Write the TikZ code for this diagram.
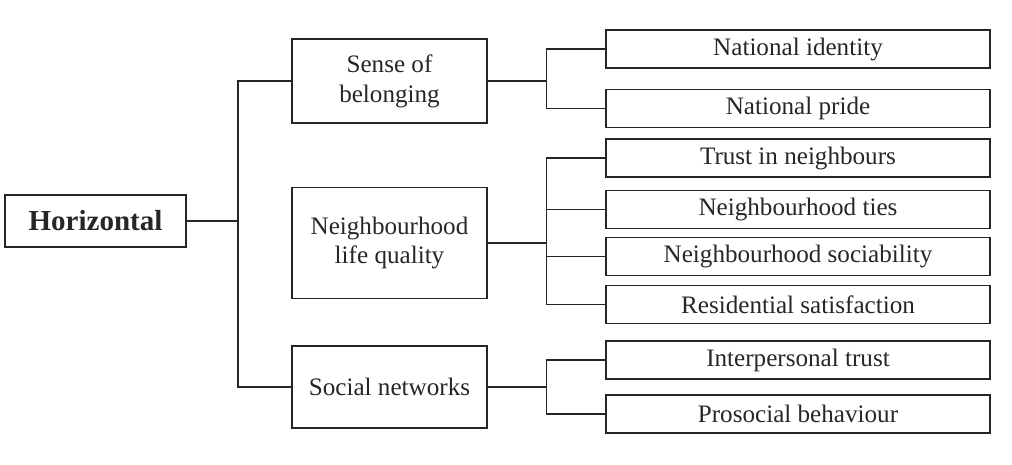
\documentclass[tikz,border=0pt]{standalone}
\usepackage{fontspec}
\setmainfont{Liberation Serif}
\begin{document}
\begin{tikzpicture}[
  x=0.02cm, y=-0.02cm,
  every path/.append style={line width=0.8pt, color=black!85},
  font=\fontsize{14.3}{17}\selectfont,
  leaf/.style={draw, minimum width=7.68cm, minimum height=0.76cm, inner sep=0pt},
  mid/.style={draw, minimum width=3.9cm, align=center, inner sep=0pt},
  root/.style={draw, minimum width=3.62cm, minimum height=1.04cm, inner sep=0pt,
    font=\fontsize{16.5}{20}\selectfont\bfseries}
  ]
  \useasboundingbox (0,0) rectangle (1012,464);
  \coordinate (trunk) at (238,0);

  \node [root] (hor) at (95.5,221) {Horizontal};
  \node [mid, minimum height=1.68cm] (sob) at (389.5,81) {Sense of\\belonging};
  \node [mid, minimum height=2.22cm] (nlq) at (389.5,243) {Neighbourhood\\life quality};
  \node [mid, minimum height=1.64cm] (soc) at (389.5,387) {Social networks};

  \foreach \name/\y/\txt in {nid/49/National identity, npr/108.5/National pride,
    tin/158/Trust in neighbours, nti/209.5/Neighbourhood ties,
    nso/256.5/Neighbourhood sociability, rsa/304.5/Residential satisfaction,
    ipt/360/Interpersonal trust, psb/414/Prosocial behaviour} {
    \node [leaf] (\name) at (798,\y) {\txt};
  }

  \draw (hor.east) -- (hor.east -| trunk);
  \draw (sob.west) -| (trunk |- soc.west) -- (soc.west);

  \foreach \leaf in {nid,npr} {
    \draw (sob.east) -- ++(59,0) |- (\leaf.west);
  }
  \foreach \leaf in {tin,nti,nso,rsa} {
    \draw (nlq.east) -- ++(59,0) |- (\leaf.west);
  }
  \foreach \leaf in {ipt,psb} {
    \draw (soc.east) -- ++(59,0) |- (\leaf.west);
  }
\end{tikzpicture}
\end{document}
